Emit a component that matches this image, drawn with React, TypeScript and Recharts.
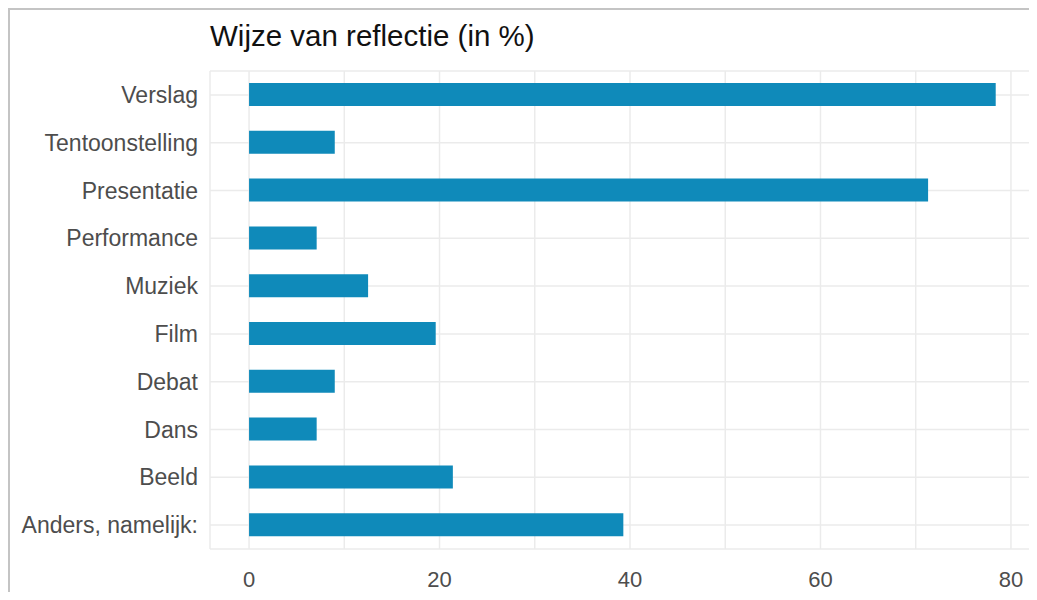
import { BarChart, Bar, XAxis, YAxis, CartesianGrid } from 'recharts';

const categories = [
  'Verslag',
  'Tentoonstelling',
  'Presentatie',
  'Performance',
  'Muziek',
  'Film',
  'Debat',
  'Dans',
  'Beeld',
  'Anders, namelijk:',
];
const percentages = [78.4, 9.0, 71.3, 7.1, 12.5, 19.6, 9.0, 7.1, 21.4, 39.3];
const xTicks = [0, 10, 20, 30, 40, 50, 60, 70, 80];
const labelledTicks = [0, 20, 40, 60, 80];

const data = categories.map((name, i) => ({ name, value: percentages[i] }));

const font = '"Liberation Sans", Arial, sans-serif';

export default function App() {
  return (
    <div
      style={{
        position: 'relative',
        width: 1027,
        height: 582,
        borderTop: '2px solid #c4c4c4',
        borderLeft: '2px solid #c4c4c4',
        fontFamily: font,
      }}
    >
      <style>{'html, body { overflow: hidden; }'}</style>
      <div
        style={{
          position: 'absolute',
          left: 200,
          top: 11,
          fontSize: 29.5,
          lineHeight: 1,
          color: '#111',
          whiteSpace: 'nowrap',
        }}
      >
        Wijze van reflectie (in %)
      </div>
      <BarChart
        width={1027}
        height={582}
        data={data}
        layout="vertical"
        margin={{ top: 61, right: 7, left: 0, bottom: 0 }}
        barCategoryGap={0}
      >
        <CartesianGrid stroke="#ebebeb" strokeWidth={1.5} />
        <XAxis
          type="number"
          domain={[-4.1, 82]}
          allowDataOverflow
          ticks={xTicks}
          interval={0}
          tickFormatter={(v: number) => (labelledTicks.includes(v) ? String(v) : '')}
          axisLine={false}
          tickLine={false}
          tickSize={0}
          tickMargin={22}
          height={43}
          tick={{ fill: '#4d4d4d', fontSize: 22, fontFamily: font }}
        />
        <YAxis
          type="category"
          dataKey="name"
          width={200}
          axisLine={false}
          tickLine={false}
          tickSize={0}
          tickMargin={12}
          interval={0}
          tick={{ fill: '#4d4d4d', fontSize: 23, fontFamily: font }}
        />
        <Bar dataKey="value" fill="#0f8aba" barSize={23} isAnimationActive={false} />
      </BarChart>
    </div>
  );
}
